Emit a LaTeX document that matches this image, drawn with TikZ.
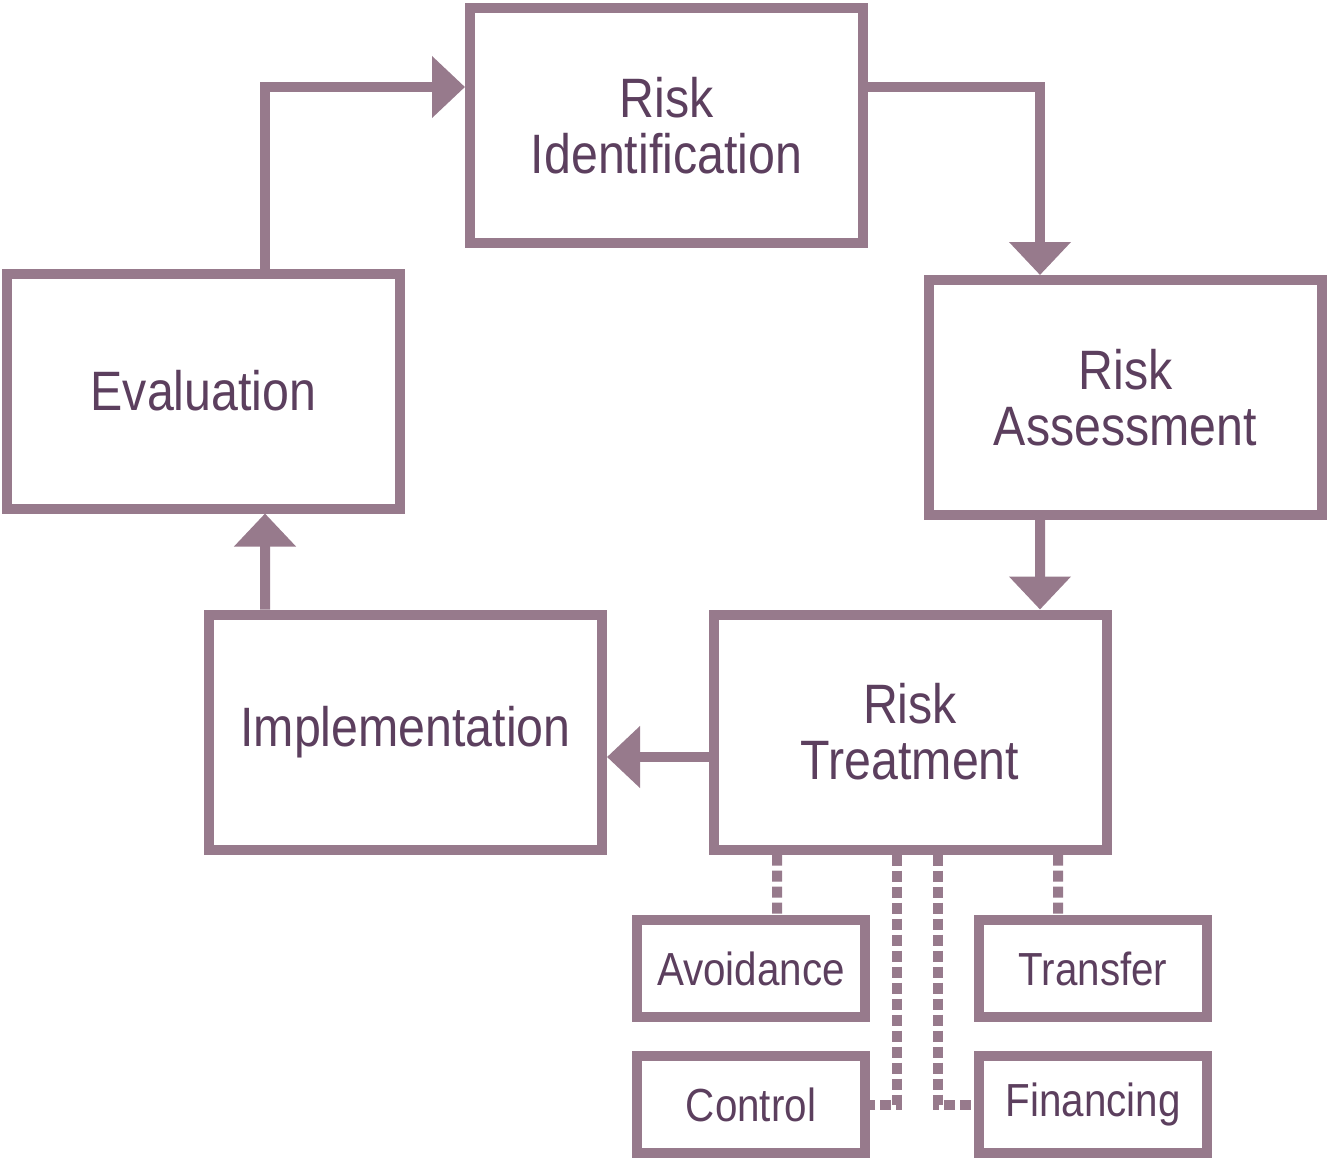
\documentclass[tikz,border=0pt]{standalone}
\usepackage{fontspec}
\setmainfont{Liberation Sans}[FakeStretch=0.87]
\usepackage{tikz}
\usetikzlibrary{arrows.meta,positioning,calc}
\usepackage{xcolor}
\definecolor{mauveLine}{HTML}{977A8C}
\definecolor{plumText}{HTML}{5C3F5E}

\begin{document}
\begin{tikzpicture}[
    stage/.style={rectangle, draw=mauveLine, line width=0.1cm, fill=white,
                  minimum width=3.93cm, minimum height=2.35cm, inner sep=0pt,
                  align=center, text=plumText,
                  font=\fontsize{15.8}{16}\selectfont},
    option/.style={rectangle, draw=mauveLine, line width=0.1cm, fill=white,
                   minimum width=2.28cm, minimum height=0.97cm, inner sep=0pt,
                   align=center, text=plumText,
                   font=\fontsize{13.2}{13.2}\selectfont},
    arrow/.style={-{Triangle[length=0.33cm, width=0.6cm]}, draw=mauveLine,
                  line width=0.1cm},
    link/.style={draw=mauveLine, line width=0.1cm,
                 dash pattern=on 0.11cm off 0.05cm},
]
    \useasboundingbox (0,0) rectangle (13.3,-11.6);
    % main cycle
    \node[stage] (ident)  at (6.665,-1.255) {Risk\\Identification};
    \node[stage] (eval)   at (2.035,-3.91)  {Evaluation};
    \node[stage] (assess) at (11.255,-3.975) {Risk\\Assessment};
    \node[stage] (impl)   at (4.055,-7.32)  {Implementation};
    \node[stage] (treat)  at (9.10,-7.32)   {Risk\\Treatment};
    % treatment options
    \node[option] (avoid)     at (7.51,-9.685)  {Avoidance};
    \node[option] (transfer)  at (10.93,-9.685) {Transfer};
    \node[option, below=1.36cm of avoid.center, anchor=center] (control) {Control};
    \node[option, below=1.36cm of transfer.center, anchor=center] (financing) {Financing};

    \draw[arrow] ([xshift=0.615cm]eval.north) |- ([yshift=0.385cm]ident.west);
    \draw[arrow] ([yshift=0.385cm]ident.east) -| ([xshift=-0.855cm]assess.north);
    \draw[arrow] ([xshift=-0.855cm]assess.south) -- ([xshift=1.3cm]treat.north);
    \draw[arrow] ([yshift=-0.25cm]treat.west) -- ([yshift=-0.25cm]impl.east);
    \draw[arrow] ([xshift=-1.405cm]impl.north) -- ([xshift=0.615cm]eval.south);

    \draw[link] ([xshift=-1.33cm]treat.south) -- ([xshift=0.26cm]avoid.north);
    \draw[link] ([xshift=1.48cm]treat.south) -- ([xshift=-0.35cm]transfer.north);
    \draw[link] ([xshift=-0.13cm]treat.south) |- (control.east);
    \draw[link] ([xshift=0.28cm]treat.south) |- (financing.west);
\end{tikzpicture}
\end{document}
